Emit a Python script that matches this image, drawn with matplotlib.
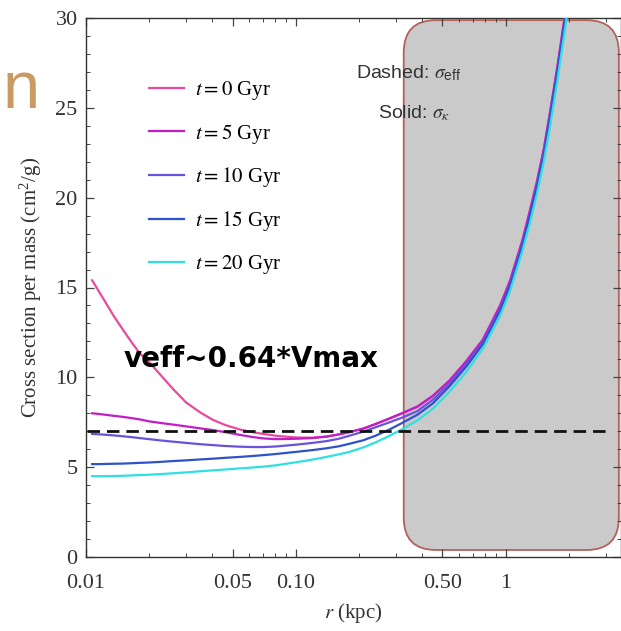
import matplotlib
matplotlib.use("Agg")
import numpy as np
import matplotlib.pyplot as plt
from matplotlib.patches import FancyBboxPatch
from matplotlib.ticker import FixedLocator, FixedFormatter, LogLocator, NullFormatter, MultipleLocator

plt.rcParams["mathtext.fontset"] = "stix"

# radius grid (kpc)
r_kpc = [0.0107, 0.0115, 0.0125, 0.0135, 0.015, 0.0165, 0.018, 0.02, 0.023, 0.026,
         0.03, 0.035, 0.04, 0.046, 0.054, 0.062, 0.07, 0.08, 0.1, 0.12,
         0.14, 0.16, 0.18, 0.21, 0.24, 0.28, 0.32, 0.38, 0.45, 0.54,
         0.65, 0.78, 0.94, 1.05, 1.2, 1.3, 1.41, 1.52, 1.62, 1.76,
         1.91, 2.0]

# sigma_K (cm^2/g) for each epoch
sigma_t0 = [15.4, 14.8, 14.1, 13.45, 12.65, 11.95, 11.35, 10.85, 10.05, 9.35,
            8.6, 8.05, 7.65, 7.35, 7.1, 6.95, 6.85, 6.75, 6.65, 6.64,
            6.7, 6.82, 6.95, 7.15, 7.4, 7.7, 7.98, 8.35, 8.95, 9.8,
            10.9, 12.1, 14.0, 15.4, 17.6, 19.2, 20.9, 22.7, 24.6, 27.2,
            30.0, 31.6]
sigma_t5 = [8.0, 7.96, 7.91, 7.86, 7.8, 7.73, 7.66, 7.55, 7.45, 7.37,
            7.27, 7.16, 7.07, 6.95, 6.8, 6.68, 6.6, 6.56, 6.58, 6.62,
            6.7, 6.82, 6.95, 7.15, 7.4, 7.72, 8.0, 8.38, 8.97, 9.82,
            10.9, 12.1, 13.95, 15.35, 17.55, 19.15, 20.85, 22.65, 24.55, 27.15,
            29.95, 31.55]
sigma_t10 = [6.85, 6.83, 6.8, 6.77, 6.72, 6.67, 6.62, 6.56, 6.48, 6.42,
             6.35, 6.28, 6.23, 6.18, 6.14, 6.12, 6.12, 6.15, 6.25, 6.35,
             6.45, 6.58, 6.75, 6.98, 7.22, 7.5, 7.75, 8.12, 8.75, 9.65,
             10.75, 11.95, 13.8, 15.2, 17.4, 19.0, 20.7, 22.5, 24.4, 27.0,
             29.8, 31.4]
sigma_t15 = [5.17, 5.17, 5.18, 5.19, 5.2, 5.22, 5.24, 5.26, 5.3, 5.34,
             5.38, 5.43, 5.47, 5.52, 5.57, 5.62, 5.67, 5.73, 5.85, 5.95,
             6.05, 6.16, 6.3, 6.5, 6.75, 7.1, 7.45, 7.92, 8.55, 9.5,
             10.6, 11.85, 13.7, 15.1, 17.3, 18.9, 20.6, 22.4, 24.3, 26.9,
             29.7, 31.3]
sigma_t20 = [4.5, 4.5, 4.5, 4.51, 4.52, 4.54, 4.56, 4.58, 4.62, 4.66,
             4.71, 4.77, 4.82, 4.87, 4.93, 4.98, 5.03, 5.1, 5.27, 5.42,
             5.57, 5.71, 5.85, 6.1, 6.38, 6.75, 7.1, 7.6, 8.25, 9.2,
             10.3, 11.6, 13.4, 14.8, 17.0, 18.5, 20.2, 22.0, 23.8, 26.4,
             29.2, 30.8]

epochs_gyr = ["0", "5", "10", "15", "20"]
colors = ["#ea4a9e", "#c21cc8", "#6a52dc", "#2f52cc", "#2ee0e2"]

# effective cross section (dashed)
sigma_eff = 7.0
r_eff_span = [0.0101, 3.2]

# shaded region in r
r_shade_start = 0.327

x_ticks = [0.01, 0.05, 0.10, 0.50, 1]
x_tick_labels = ["0.01", "0.05", "0.10", "0.50", "1"]

W, H = 621, 631
x_lo, x_hi = 0.01, 3.55
fig = plt.figure(figsize=(W / 100, H / 100), dpi=100)
ax = fig.add_axes([86 / W, (H - 557) / H, 535 / W, 539 / H])
ax.set_xscale("log")
ax.set_xlim(x_lo, x_hi)
ax.set_ylim(0, 30)

# shaded rounded box (axes fraction, left edge at r_shade_start)
x0 = (np.log10(r_shade_start) - np.log10(x_lo)) / (np.log10(x_hi) - np.log10(x_lo))
box = FancyBboxPatch((x0, 0.013), 0.996 - x0, 0.983,
                     boxstyle="round,pad=0,rounding_size=0.06",
                     transform=ax.transAxes, facecolor="#cacaca",
                     edgecolor="#b2625a", linewidth=1.3, zorder=1)
ax.add_patch(box)

series = [sigma_t0, sigma_t5, sigma_t10, sigma_t15, sigma_t20]
for vals, c, t in zip(series, colors, epochs_gyr):
    ax.plot(r_kpc, vals, color=c, lw=1.6, zorder=3,
            label=r"$\mathit{t{=}%s}$ Gyr" % t)

ax.plot(r_eff_span, [sigma_eff, sigma_eff], color="#111111", lw=2.0,
        ls=(0, (4.5, 2.5)), zorder=4)

# ticks
ax.xaxis.set_major_locator(FixedLocator(x_ticks))
ax.xaxis.set_major_formatter(FixedFormatter(x_tick_labels))
ax.xaxis.set_minor_locator(LogLocator(base=10, subs=np.arange(2, 10)))
ax.xaxis.set_minor_formatter(NullFormatter())
ax.yaxis.set_major_locator(MultipleLocator(5))
ax.yaxis.set_minor_locator(MultipleLocator(1))
ax.tick_params(which="both", direction="in", top=True, right=True,
               colors="#444444", labelcolor="#333333")
ax.tick_params(which="major", length=6, width=0.9, labelsize=16)
ax.tick_params(axis="x", which="major", pad=12)
ax.tick_params(axis="y", which="major", pad=6)
ax.tick_params(which="minor", length=3, width=0.7)
for lab in ax.get_xticklabels() + ax.get_yticklabels():
    lab.set_family("Liberation Serif")
for s in ax.spines.values():
    s.set_color("#333333")
    s.set_linewidth(1.0)

ax.set_xlabel(r"$\mathit{r}$ (kpc)", family="Liberation Serif", fontsize=15,
              color="#333333", labelpad=6)
ax.set_ylabel(r"Cross section per mass (cm$^{\mathregular{2}}$/g)",
              family="Liberation Serif", fontsize=15, color="#333333", labelpad=8)

leg = ax.legend(loc="upper left", bbox_to_anchor=(0.0825, 0.922), frameon=False,
                prop={"family": "Liberation Serif", "size": 15},
                handlelength=1.7, handletextpad=0.5, labelspacing=0.95)
for line in leg.get_lines():
    line.set_linewidth(1.6)

ax.text(0.505, 0.897, r"Dashed: $\sigma_{\mathregular{eff}}$", transform=ax.transAxes,
        family="Liberation Sans", fontsize=14, color="#333333", ha="left", va="center",
        zorder=5)
ax.text(0.545, 0.823, r"Solid: $\sigma_{\kappa}$", transform=ax.transAxes,
        family="Liberation Sans", fontsize=14, color="#333333", ha="left", va="center",
        zorder=5)

ax.text(0.07, 0.367, "veff~0.64*Vmax", transform=ax.transAxes,
        family="DejaVu Sans", fontweight="bold", fontsize=20, color="black",
        ha="left", va="center", zorder=6)

fig.text(3 / W, 1 - 108 / H, "n", family="Liberation Sans", fontsize=48,
         color="#c99a62", ha="left", va="baseline")

fig.savefig("out.png", dpi=100)
